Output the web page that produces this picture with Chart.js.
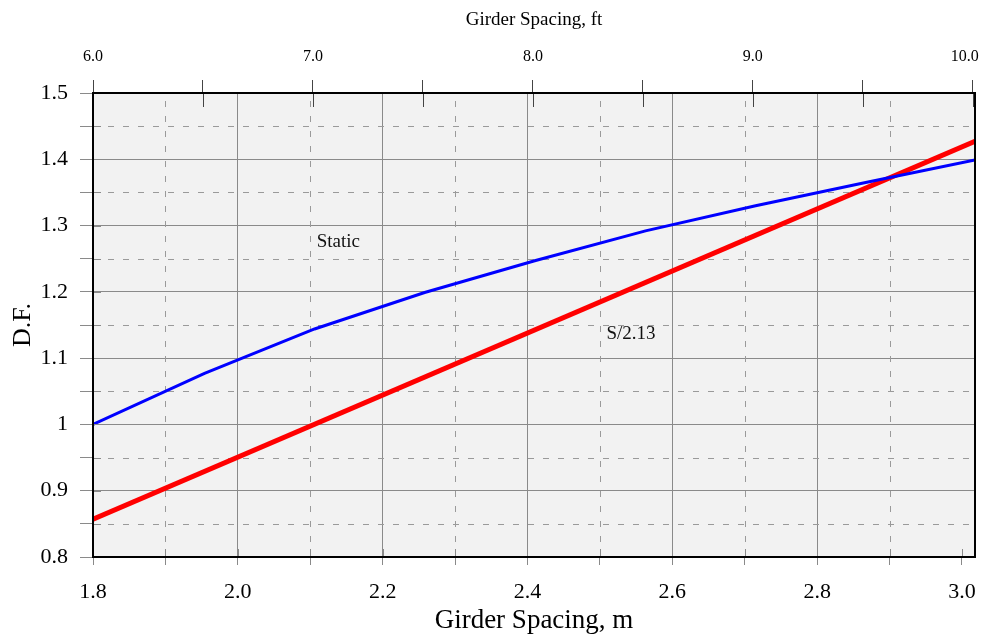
<!DOCTYPE html>
<html>
<head>
<meta charset="utf-8">
<script src="https://cdn.jsdelivr.net/npm/chart.js@4"></script>
<style>
  html, body { margin: 0; padding: 0; background: #fff; }
  #chart { display: block; }
</style>
</head>
<body>
<canvas id="chart" width="982" height="637"></canvas>
<script>
// Data
const spacingM = [1.8, 1.954, 2.106, 2.258, 2.41, 2.563, 2.715, 2.867, 3.018];
const staticDF = [1.0, 1.077, 1.144, 1.199, 1.247, 1.292, 1.330, 1.365, 1.399];
const ruleM = [1.8, 3.018];
const ruleDF = [0.857, 1.427];

const noteText = ['Static', 'S/2.13'];
const noteX = [2.109, 2.509];
const noteY = [1.275, 1.137];

const SERIF = '"Liberation Serif", "Times New Roman", serif';
const GRID = '#8a8a8a';

const isMajor = (v, step) => Math.abs(Math.round(v / step) - v / step) < 1e-6;

// plot background, dashed minor grid, inner tick stubs, frame, text notes
const decor = {
    id: 'decor',
    beforeDraw(chart) {
        const { ctx, chartArea: a } = chart;
        ctx.save();
        ctx.fillStyle = '#f2f2f2';
        ctx.fillRect(a.left, a.top, a.right - a.left, a.bottom - a.top);
        ctx.restore();
    },
    beforeDatasetsDraw(chart) {
        const { ctx, chartArea: a, scales } = chart;
        ctx.save();
        ctx.strokeStyle = '#9a9a9a';
        ctx.lineWidth = 1;
        ctx.setLineDash([6, 9]);
        scales.x.ticks.forEach(t => {
            if (isMajor(t.value, 0.2)) return;
            const px = Math.round(scales.x.getPixelForValue(t.value)) + 0.5;
            ctx.beginPath(); ctx.moveTo(px, a.bottom); ctx.lineTo(px, a.top); ctx.stroke();
        });
        scales.y.ticks.forEach(t => {
            if (isMajor(t.value, 0.1)) return;
            const py = Math.round(scales.y.getPixelForValue(t.value)) + 0.5;
            ctx.beginPath(); ctx.moveTo(a.left, py); ctx.lineTo(a.right, py); ctx.stroke();
        });
        ctx.restore();
    },
    afterDatasetsDraw(chart) {
        const { ctx, chartArea: a, scales } = chart;
        ctx.save();
        // inner tick stubs
        ctx.lineWidth = 1;
        ctx.strokeStyle = GRID;
        scales.y.ticks.forEach(t => {
            const py = Math.round(scales.y.getPixelForValue(t.value)) + 0.5;
            ctx.beginPath(); ctx.moveTo(a.left, py); ctx.lineTo(a.left + 8, py); ctx.stroke();
        });
        scales.x.ticks.forEach(t => {
            const px = Math.round(scales.x.getPixelForValue(t.value)) + 0.5;
            ctx.beginPath(); ctx.moveTo(px, a.bottom); ctx.lineTo(px, a.bottom - 8); ctx.stroke();
        });
        ctx.strokeStyle = '#444';
        scales.x2.ticks.forEach(t => {
            const px = Math.round(scales.x2.getPixelForValue(t.value)) + 0.5;
            ctx.beginPath(); ctx.moveTo(px, a.top); ctx.lineTo(px, a.top + 14); ctx.stroke();
        });
        // frame
        ctx.strokeStyle = '#000';
        ctx.lineWidth = 2;
        ctx.strokeRect(a.left, a.top, a.right - a.left, a.bottom - a.top);
        // notes
        ctx.fillStyle = '#111';
        ctx.font = '19px ' + SERIF;
        ctx.textAlign = 'left';
        ctx.textBaseline = 'middle';
        noteText.forEach((txt, i) => {
            ctx.fillText(txt, scales.x.getPixelForValue(noteX[i]), scales.y.getPixelForValue(noteY[i]));
        });
        ctx.restore();
    }
};

new Chart(document.getElementById('chart').getContext('2d'), {
    type: 'line',
    data: {
        datasets: [
            {
                label: 'Static',
                data: spacingM.map((x, i) => ({ x, y: staticDF[i] })),
                borderColor: '#0000ff',
                borderWidth: 3,
                pointRadius: 0,
                tension: 0
            },
            {
                label: 'S/2.13',
                data: ruleM.map((x, i) => ({ x, y: ruleDF[i] })),
                borderColor: '#ff0000',
                borderWidth: 5,
                pointRadius: 0,
                tension: 0
            }
        ]
    },
    options: {
        responsive: false,
        devicePixelRatio: 1,
        animation: false,
        layout: { padding: { left: 0, right: 7, top: 0, bottom: 0 } },
        plugins: {
            legend: { display: false },
            tooltip: { enabled: false }
        },
        scales: {
            x: {
                type: 'linear',
                position: 'bottom',
                min: 1.8,
                max: 3.018,
                afterFit: s => { s.height = 80; s.paddingLeft = 0; s.paddingRight = 0; },
                border: { display: false },
                grid: {
                    color: c => (c.tick && isMajor(c.tick.value, 0.2) && c.tick.value < 2.99) ? GRID : 'rgba(0,0,0,0)',
                    tickColor: GRID,
                    tickLength: 8,
                    lineWidth: 1
                },
                ticks: {
                    stepSize: 0.1,
                    includeBounds: false,
                    autoSkip: false,
                    maxRotation: 0,
                    padding: 14,
                    color: '#000',
                    font: { family: SERIF, size: 22 },
                    callback: v => isMajor(v, 0.2) ? v.toFixed(1) : ''
                },
                title: {
                    display: true,
                    text: 'Girder Spacing, m',
                    color: '#000',
                    font: { family: SERIF, size: 27 },
                    padding: { top: 0, bottom: 0 }
                }
            },
            x2: {
                type: 'linear',
                position: 'top',
                min: 6,
                max: 10.01,
                afterFit: s => { s.height = 93; s.paddingLeft = 0; s.paddingRight = 0; },
                border: { display: false },
                grid: {
                    drawOnChartArea: false,
                    color: '#444',
                    tickLength: 13,
                    lineWidth: 1
                },
                ticks: {
                    stepSize: 0.5,
                    includeBounds: false,
                    autoSkip: false,
                    maxRotation: 0,
                    padding: 14,
                    color: '#000',
                    font: { family: SERIF, size: 16 },
                    // last label sits against the canvas edge, pad it so it stays inside
                    callback: v => isMajor(v, 1) ? (v >= 10 ? v.toFixed(1) + '    ' : v.toFixed(1)) : ''
                },
                title: {
                    display: true,
                    text: 'Girder Spacing, ft',
                    color: '#000',
                    font: { family: SERIF, size: 19 },
                    padding: { top: 9, bottom: 0 }
                }
            },
            y: {
                type: 'linear',
                position: 'left',
                min: 0.8,
                max: 1.5,
                afterFit: s => { s.width = 93; },
                border: { display: false },
                grid: {
                    color: c => (c.tick && isMajor(c.tick.value, 0.1)) ? GRID : 'rgba(0,0,0,0)',
                    tickColor: GRID,
                    tickLength: 13,
                    lineWidth: 1
                },
                ticks: {
                    stepSize: 0.05,
                    autoSkip: false,
                    padding: 12,
                    color: '#000',
                    font: { family: SERIF, size: 22 },
                    callback: v => isMajor(v, 0.1) ? (Math.abs(v - 1) < 1e-6 ? '1' : v.toFixed(1)) : ''
                },
                title: {
                    display: true,
                    text: 'D.F.',
                    color: '#000',
                    font: { family: SERIF, size: 26 },
                    padding: { top: 8, bottom: 0 }
                }
            }
        }
    },
    plugins: [decor]
});
</script>
</body>
</html>
